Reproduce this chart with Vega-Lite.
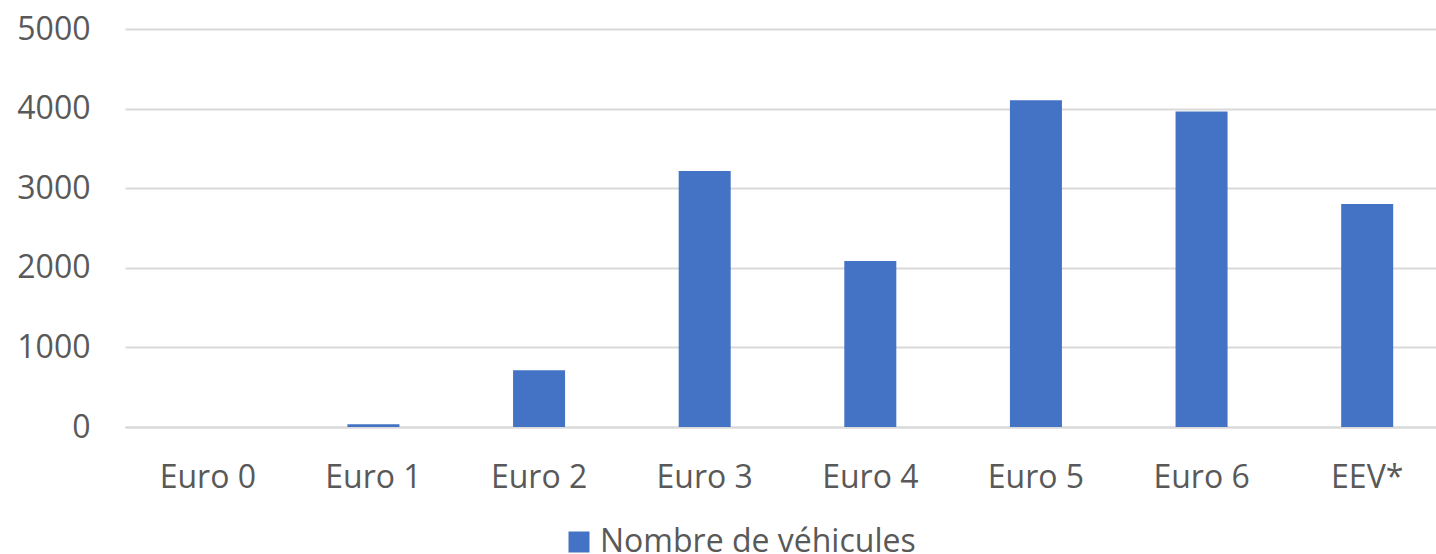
{
  "$schema": "https://vega.github.io/schema/vega-lite/v6.json",
  "width": 1311,
  "height": 398,
  "autosize": {"type": "none"},
  "padding": {"left": 125, "top": 29, "right": 0, "bottom": 127},
  "background": "white",
  "config": {
    "view": {"stroke": null},
    "font": "Open Sans"
  },
  "data": {
    "values": [
      {"norme": "Euro 0", "nombre": 0, "serie": "Nombre de véhicules"},
      {"norme": "Euro 1", "nombre": 35, "serie": "Nombre de véhicules"},
      {"norme": "Euro 2", "nombre": 713, "serie": "Nombre de véhicules"},
      {"norme": "Euro 3", "nombre": 3216, "serie": "Nombre de véhicules"},
      {"norme": "Euro 4", "nombre": 2084, "serie": "Nombre de véhicules"},
      {"norme": "Euro 5", "nombre": 4105, "serie": "Nombre de véhicules"},
      {"norme": "Euro 6", "nombre": 3962, "serie": "Nombre de véhicules"},
      {"norme": "EEV*", "nombre": 2801, "serie": "Nombre de véhicules"}
    ]
  },
  "mark": {"type": "bar"},
  "encoding": {
    "x": {
      "field": "norme",
      "type": "nominal",
      "sort": null,
      "scale": {"range": [0, 1325], "paddingInner": 0.686, "paddingOuter": 0.343},
      "axis": {
        "title": null,
        "labelAngle": 0,
        "labelFont": "Open Sans",
        "labelFontSize": 32,
        "labelColor": "#595959",
        "labelPadding": 35,
        "ticks": false,
        "domainColor": "#d9d9d9",
        "domainWidth": 2,
        "grid": false
      }
    },
    "y": {
      "field": "nombre",
      "type": "quantitative",
      "scale": {"domain": [0, 5000], "nice": false},
      "axis": {
        "title": null,
        "format": "d",
        "values": [0, 1000, 2000, 3000, 4000, 5000],
        "labelFont": "Open Sans",
        "labelFontSize": 32,
        "labelColor": "#595959",
        "labelPadding": 35,
        "ticks": false,
        "domain": false,
        "gridColor": "#d9d9d9",
        "gridWidth": 2
      }
    },
    "color": {
      "field": "serie",
      "type": "nominal",
      "scale": {"range": ["#4472C4"]},
      "legend": {
        "title": null,
        "orient": "none",
        "legendX": 438,
        "legendY": 497,
        "padding": 0,
        "symbolType": "square",
        "symbolSize": 441,
        "symbolStrokeWidth": 0,
        "labelFont": "Open Sans",
        "labelFontSize": 32,
        "labelColor": "#595959",
        "labelOffset": 5,
        "labelLimit": 0
      }
    }
  }
}
